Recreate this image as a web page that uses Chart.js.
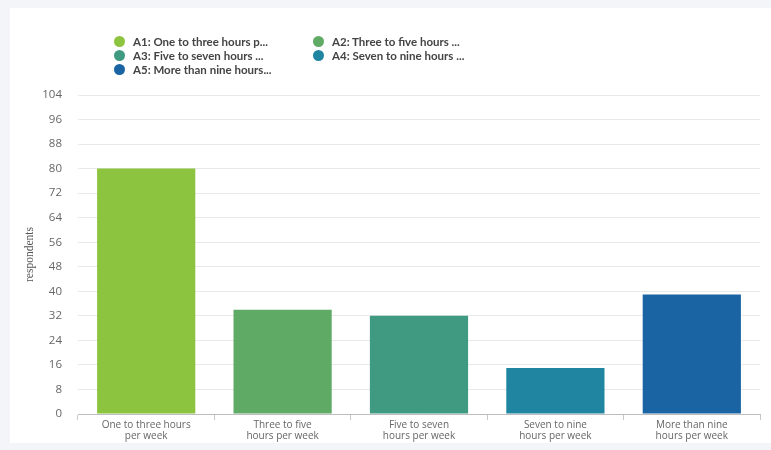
<!DOCTYPE html>
<html>
<head>
<meta charset="utf-8">
<script src="https://cdn.jsdelivr.net/npm/chart.js@4"></script>
<style>
  html, body { margin: 0; padding: 0; }
  body { width: 771px; height: 450px; background: #f3f5f8; position: relative; overflow: hidden; }
  #painel { position: absolute; left: 10px; top: 8px; width: 761px; height: 435px; background: #ffffff; }
  #painel canvas { position: absolute; left: 0; top: 0; }
  #legenda {
    position: absolute; left: 104px; top: 26px;
    display: grid; grid-template-columns: 199px 200px; row-gap: 0px;
    font-family: Lato, "Open Sans", sans-serif; font-weight: 700; font-size: 11.5px; color: #444;
  }
  .item { display: flex; align-items: center; height: 14px; white-space: nowrap; }
  .bola { width: 11px; height: 11px; border-radius: 50%; margin-right: 8px; flex: none; }
</style>
</head>
<body>
<div id="painel">
  <canvas id="grafico" width="761" height="435"></canvas>
  <div id="legenda"></div>
</div>
<script>
// Dados do gráfico
const categorias = [
  ['One to three hours', 'per week'],
  ['Three to five', 'hours per week'],
  ['Five to seven', 'hours per week'],
  ['Seven to nine', 'hours per week'],
  ['More than nine', 'hours per week']
];
const rotulosLegenda = [
  'A1: One to three hours p...',
  'A2: Three to five hours ...',
  'A3: Five to seven hours ...',
  'A4: Seven to nine hours ...',
  'A5: More than nine hours...'
];
const respondentes = [80, 34, 32, 15, 39];
const cores = ['#8cc43f', '#5faa65', '#3f9a81', '#1f85a1', '#1a64a4'];
const ticksY = { min: 0, max: 104, passo: 8 };

// Legenda em HTML (duas colunas)
function montarLegenda() {
  const caixa = document.getElementById('legenda');
  rotulosLegenda.forEach((txt, i) => {
    const item = document.createElement('div');
    item.className = 'item';
    const bola = document.createElement('span');
    bola.className = 'bola';
    bola.style.background = cores[i];
    item.appendChild(bola);
    item.appendChild(document.createTextNode(txt));
    caixa.appendChild(item);
  });
}

function desenharGrafico() {
  const ctx = document.getElementById('grafico').getContext('2d');
  new Chart(ctx, {
    type: 'bar',
    data: {
      labels: categorias,
      datasets: [{
        label: 'respondents',
        data: respondentes,
        backgroundColor: cores,
        borderWidth: 0,
        barPercentage: 0.72,
        categoryPercentage: 1
      }]
    },
    options: {
      responsive: false,
      animation: false,
      layout: { padding: { left: 0, top: 87, right: 11, bottom: 0 } },
      plugins: { legend: { display: false }, tooltip: { enabled: false } },
      scales: {
        x: {
          grid: {
            offset: true,
            drawOnChartArea: false,
            drawTicks: true,
            tickLength: 6,
            color: '#c8c8c8'
          },
          border: { display: true, color: '#bdbdbd' },
          ticks: {
            color: '#666',
            font: { family: '"Open Sans", sans-serif', size: 10, lineHeight: 1.1 },
            maxRotation: 0,
            padding: 0
          },
          afterFit: (escala) => { escala.height = 29; }
        },
        y: {
          min: ticksY.min,
          max: ticksY.max,
          grid: { color: '#e9e9e9', drawTicks: false },
          border: { display: false },
          ticks: {
            stepSize: ticksY.passo,
            color: '#666',
            font: { family: '"Open Sans", sans-serif', size: 11.5 },
            padding: 16
          },
          title: {
            display: true,
            text: 'respondents',
            color: '#555',
            font: { family: '"Liberation Serif", serif', size: 11.5 },
            padding: { top: 13, bottom: 0 }
          },
          afterFit: (escala) => { escala.width = 68; }
        }
      }
    }
  });
}

montarLegenda();
desenharGrafico();
</script>
</body>
</html>
